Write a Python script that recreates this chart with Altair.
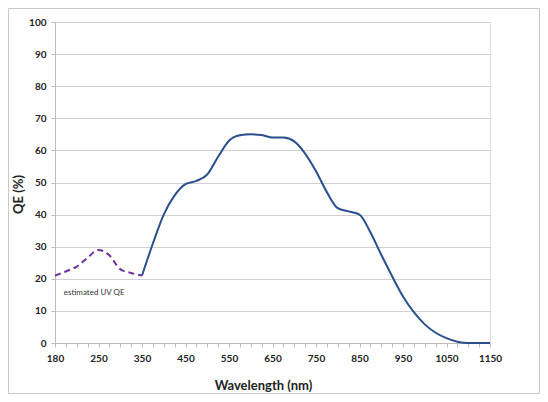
import altair as alt
import pandas as pd

# Visible/NIR QE curve (solid)
vis_wl = [350, 375, 400, 425, 450, 475, 500, 525, 550, 575, 600, 625, 650, 675, 700,
          725, 750, 775, 800, 825, 850, 875, 900, 925, 950, 975, 1000, 1025, 1050,
          1075, 1100, 1125, 1150]
vis_qe = [21, 31, 40, 46, 49.5, 50.5, 52.5, 58, 63, 64.7, 65, 64.8, 64, 64, 62.8,
          59, 53.5, 47, 42, 41, 40, 34.5, 27.5, 20.8, 14.5, 9.6, 5.8, 3.2, 1.5,
          0.4, 0, 0, 0]

# Estimated UV QE (dashed)
uv_wl = [180, 200, 215, 232, 250, 275, 300, 325, 350]
uv_qe = [21, 22.5, 23.8, 26.5, 29, 27.3, 23, 21.8, 21]

# Category-style axis labels (Excel line chart)
tick_labels = ["180", "250", "350", "450", "550", "650", "750", "850", "950", "1050", "1150"]


def pos(w):
    return (w - 180) / 70 if w < 250 else 1 + (w - 250) / 100


vis = pd.DataFrame({"wl": vis_wl, "qe": vis_qe})
vis["pos"] = vis["wl"].map(pos)
uv = pd.DataFrame({"wl": uv_wl, "qe": uv_qe})
uv["pos"] = uv["wl"].map(pos)

label_expr = "datum.value % 1 == 0 ? " + str(tick_labels) + "[round(datum.value)] : ''"

x_scale = alt.Scale(domain=[0, 10], nice=False, zero=False)
y_scale = alt.Scale(domain=[0, 100], nice=False)

FONT = "Lato"

x_axis = alt.Axis(
    values=[i / 4 for i in range(41)],
    labelExpr=label_expr,
    title="Wavelength (nm)",
    titleFont=FONT, titleFontSize=13, titleFontWeight="bold", titleColor="#222",
    titleX=208, titleY=36, titleBaseline="top",
    labelFont=FONT, labelFontSize=10, labelFontWeight="bold", labelColor="#222",
    labelPadding=6, labelOverlap=False, labelFlush=False,
    domainColor="#bbbbbb", tickColor="#bbbbbb", tickSize=4,
    grid=False,
)
y_axis = alt.Axis(
    values=list(range(0, 101, 10)),
    title="QE (%)",
    titleFont=FONT, titleFontSize=13, titleFontWeight="bold", titleColor="#222",
    titleX=-30, titleY=172, titleBaseline="bottom",
    labelFont=FONT, labelFontSize=10, labelFontWeight="bold", labelColor="#222",
    labelPadding=5, labelOverlap=False, labelFlush=False,
    domainColor="#bbbbbb", tickColor="#bbbbbb", tickSize=4,
    grid=True, gridColor="#d0d0d0",
)

X = alt.X("pos:Q", scale=x_scale, axis=x_axis)
Y = alt.Y("qe:Q", scale=y_scale, axis=y_axis)

base_vis = alt.Chart(vis).mark_line(
    color="#2A4F8E", strokeWidth=2, interpolate="monotone"
).encode(x=X, y=Y)

uv_line = alt.Chart(uv).mark_line(
    color="#7030A0", strokeWidth=2, strokeDash=[6, 4], interpolate="monotone"
).encode(x=X, y=Y)

note = alt.Chart(pd.DataFrame({"pos": [0.2], "qe": [15.5], "t": ["estimated UV QE"]})).mark_text(
    align="left", baseline="middle", font=FONT, fontSize=8, color="#333"
).encode(x=X, y=Y, text="t:N")

frame = alt.Chart(pd.DataFrame({"a": [0]})).mark_rect(
    fill="transparent", stroke="#c8c8c8", strokeWidth=1, clip=False
).encode(
    x=alt.value(-46.5), x2=alt.value(484.5), y=alt.value(-13.5), y2=alt.value(371.5)
)

chart = alt.layer(base_vis, uv_line, note, frame).properties(
    width=435, height=321,
    autosize=alt.AutoSizeParams(type="none"),
    padding={"left": 47, "top": 14, "right": 50, "bottom": 51},
).configure_view(stroke=None).configure(background="white")

chart.save("out.html", embed_options={"renderer": "svg", "actions": False})
